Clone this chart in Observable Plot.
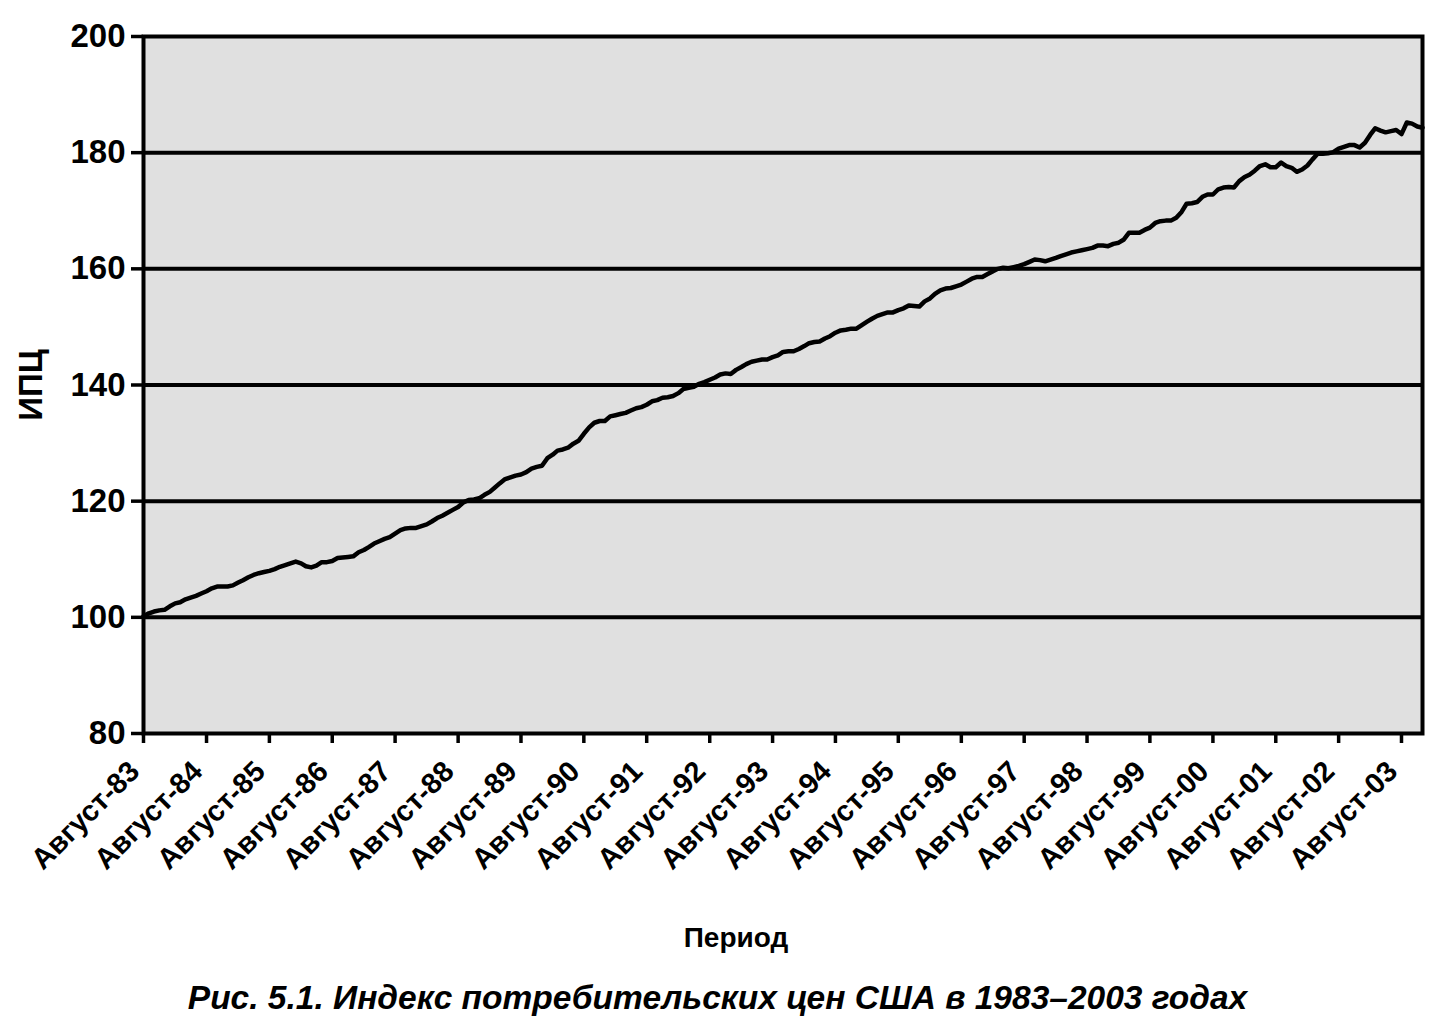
<!DOCTYPE html>
<html>
<head>
<meta charset="utf-8">
<script src="https://cdn.jsdelivr.net/npm/d3@7"></script>
<script src="https://cdn.jsdelivr.net/npm/@observablehq/plot@0.6"></script>
<style>
  html, body { margin: 0; padding: 0; background: #fff; }
  #chart { width: 1445px; }
  #caption {
    width: 1445px; text-align: center;
    font-family: "Liberation Sans", Arial, sans-serif;
    font-style: italic; font-weight: bold; font-size: 33.5px;
    color: #000; margin-top: 14px; padding-right: 10px; box-sizing: border-box;
  }
</style>
</head>
<body>
<div id="chart"></div>
<div id="caption">Рис. 5.1. Индекс потребительских цен США в 1983–2003 годах</div>
<script>
// Monthly CPI values (first value = August 1983)
const startYear = 1983, startMonth = 7; // August (0-based)
const cpi1983 = [100.2, 100.7, 101.0, 101.2, 101.3];
const cpi1984 = [101.9, 102.4, 102.6, 103.1, 103.4, 103.7, 104.1, 104.5, 105.0, 105.3, 105.3, 105.3];
const cpi1985 = [105.5, 106.0, 106.4, 106.9, 107.3, 107.6, 107.8, 108.0, 108.3, 108.7, 109.0, 109.3];
const cpi1986 = [109.6, 109.3, 108.8, 108.6, 108.9, 109.5, 109.5, 109.7, 110.2, 110.3, 110.4, 110.5];
const cpi1987 = [111.2, 111.6, 112.1, 112.7, 113.1, 113.5, 113.8, 114.4, 115.0, 115.3, 115.4, 115.4];
const cpi1988 = [115.7, 116.0, 116.5, 117.1, 117.5, 118.0, 118.5, 119.0, 119.8, 120.2, 120.3, 120.5];
const cpi1989 = [121.1, 121.6, 122.3, 123.1, 123.8, 124.1, 124.4, 124.6, 125.0, 125.6, 125.9, 126.1];
const cpi1990 = [127.4, 128.0, 128.7, 128.9, 129.2, 129.9, 130.4, 131.6, 132.7, 133.5, 133.8, 133.8];
const cpi1991 = [134.6, 134.8, 135.0, 135.2, 135.6, 136.0, 136.2, 136.6, 137.2, 137.4, 137.8, 137.9];
const cpi1992 = [138.1, 138.6, 139.3, 139.5, 139.7, 140.2, 140.5, 140.9, 141.3, 141.8, 142.0, 141.9];
const cpi1993 = [142.6, 143.1, 143.6, 144.0, 144.2, 144.4, 144.4, 144.8, 145.1, 145.7, 145.8, 145.8];
const cpi1994 = [146.2, 146.7, 147.2, 147.4, 147.5, 148.0, 148.4, 149.0, 149.4, 149.5, 149.7, 149.7];
const cpi1995 = [150.3, 150.9, 151.4, 151.9, 152.2, 152.5, 152.5, 152.9, 153.2, 153.7, 153.6, 153.5];
const cpi1996 = [154.4, 154.9, 155.7, 156.3, 156.6, 156.7, 157.0, 157.3, 157.8, 158.3, 158.6, 158.6];
const cpi1997 = [159.1, 159.6, 160.0, 160.2, 160.1, 160.3, 160.5, 160.8, 161.2, 161.6, 161.5, 161.3];
const cpi1998 = [161.6, 161.9, 162.2, 162.5, 162.8, 163.0, 163.2, 163.4, 163.6, 164.0, 164.0, 163.9];
const cpi1999 = [164.3, 164.5, 165.0, 166.2, 166.2, 166.2, 166.7, 167.1, 167.9, 168.2, 168.3, 168.3];
const cpi2000 = [168.8, 169.8, 171.2, 171.3, 171.5, 172.4, 172.8, 172.8, 173.7, 174.0, 174.1, 174.0];
const cpi2001 = [175.1, 175.8, 176.2, 176.9, 177.7, 178.0, 177.5, 177.5, 178.3, 177.7, 177.4, 176.7];
const cpi2002 = [177.1, 177.8, 178.8, 179.8, 179.8, 179.9, 180.1, 180.7, 181.0, 181.3, 181.3, 180.9];
const cpi2003 = [181.7, 183.1, 184.2, 183.8, 183.5, 183.7, 183.9, 183.2, 185.2, 185.0, 184.5, 184.3];

const yTicks = [80, 100, 120, 140, 160, 180, 200];
const gridValues = [100, 120, 140, 160, 180];
const tickYears = d3.range(1983, 2004);
const monthName = "Август";
const xLabel = "Период";
const yLabel = "ИПЦ";

const allValues = [].concat(cpi1983, cpi1984, cpi1985, cpi1986, cpi1987, cpi1988, cpi1989,
  cpi1990, cpi1991, cpi1992, cpi1993, cpi1994, cpi1995, cpi1996, cpi1997, cpi1998,
  cpi1999, cpi2000, cpi2001, cpi2002, cpi2003);
const data = allValues.map((v, i) => ({
  date: new Date(Date.UTC(startYear, startMonth + i, 1)),
  value: v
}));
const xTicks = tickYears.map(y => new Date(Date.UTC(y, startMonth, 1)));

const font = '"Liberation Sans", Arial, sans-serif';

const chart = Plot.plot({
  width: 1445,
  height: 965,
  marginLeft: 143,
  marginRight: 23,
  marginTop: 36,
  marginBottom: 232,
  style: { fontFamily: font, fontSize: "30px", color: "#000", background: "#fff", fontWeight: "bold" },
  x: { type: "utc", domain: [data[0].date, data[data.length - 1].date] },
  y: { domain: [80, 200] },
  marks: [
    Plot.frame({ fill: "#e0e0e0", stroke: "none" }),
    Plot.ruleY(gridValues, { stroke: "#000", strokeWidth: 4 }),
    Plot.lineY(data, { x: "date", y: "value", stroke: "#000", strokeWidth: 4.5, strokeLinejoin: "round" }),
    Plot.frame({ stroke: "#000", strokeWidth: 4, fill: "none" }),
    Plot.axisY({
      ticks: yTicks, tickSize: 12, tickPadding: 6, strokeWidth: 3.5, fontSize: 33,
      label: yLabel, labelAnchor: "center", labelArrow: "none", labelOffset: 125
    }),
    Plot.axisX({
      ticks: xTicks, tickSize: 10, tickPadding: 18, strokeWidth: 3.5,
      tickRotate: -45, text: null,
      label: null
    }),
    Plot.axisX({
      ticks: xTicks, tickSize: 0, tickPadding: 33, fontSize: 29, dx: -9,
      tickRotate: -45,
      tickFormat: d => monthName + "-" + String(d.getUTCFullYear()).slice(2),
      label: null
    }),
    Plot.text([xLabel], { frameAnchor: "bottom", dx: -47, dy: 213, fontSize: 28, fill: "#000", textAnchor: "middle", lineAnchor: "bottom" })
  ]
});
document.getElementById("chart").appendChild(chart);
</script>
</body>
</html>
